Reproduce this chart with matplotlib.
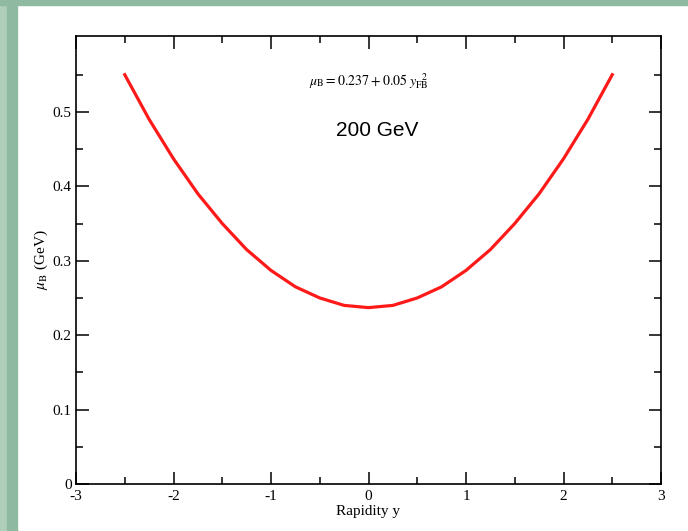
import numpy as np
import matplotlib
matplotlib.use("Agg")
import matplotlib.pyplot as plt
from matplotlib.patches import Rectangle

plt.rcParams['font.family'] = ['Liberation Serif', 'DejaVu Serif']
plt.rcParams['mathtext.fontset'] = 'stix'

# Rapidity points and mu_B values
rapidity = [-2.5, -2.25, -2.0, -1.75, -1.5, -1.25, -1.0, -0.75, -0.5, -0.25, 0.0,
            0.25, 0.5, 0.75, 1.0, 1.25, 1.5, 1.75, 2.0, 2.25, 2.5]
mu_b = [0.550, 0.490, 0.437, 0.390, 0.350, 0.315, 0.287, 0.265, 0.250, 0.240, 0.237,
        0.240, 0.250, 0.265, 0.287, 0.315, 0.350, 0.390, 0.437, 0.490, 0.550]

x_ticks = [-3, -2, -1, 0, 1, 2, 3]
y_ticks = [0, 0.1, 0.2, 0.3, 0.4, 0.5]

fig = plt.figure(figsize=(6.88, 5.31), dpi=100)
W, H = 688, 531

# slide background frame (green strips on left and top)
fig.patches.append(Rectangle((0, 0), 7 / W, 1, transform=fig.transFigure,
                             color='#afcfbb', zorder=0))
fig.patches.append(Rectangle((7 / W, 0), 10 / W, 1, transform=fig.transFigure,
                             color='#8fb9a1', zorder=0))
fig.patches.append(Rectangle((0, 1 - 5 / H), 1, 5 / H, transform=fig.transFigure,
                             color='#8fb9a1', zorder=0))

ax = fig.add_axes([76 / W, 1 - 484 / H, (661 - 76) / W, (484 - 36) / H])
ax.plot(rapidity, mu_b, color='#ff1a1a', lw=2.3, solid_joinstyle='round')

ax.set_xlim(-3, 3)
ax.set_ylim(0, 0.602)
ax.set_xticks(x_ticks)
ax.set_xticklabels([str(v) for v in x_ticks])
ax.set_yticks(y_ticks)
ax.set_yticklabels(['0', '0.1', '0.2', '0.3', '0.4', '0.5'])
ax.set_xticks(np.arange(-2.5, 3, 1.0), minor=True)
ax.set_yticks(np.arange(0.05, 0.6, 0.1), minor=True)

ax.tick_params(which='both', direction='in', top=True, right=True, width=1.1,
               labelsize=11, colors='black')
ax.tick_params(which='major', length=9)
ax.tick_params(axis='x', which='major', pad=4)
ax.tick_params(axis='y', which='major', pad=3)
ax.tick_params(which='minor', length=5)
for s in ax.spines.values():
    s.set_linewidth(1.2)

ax.set_xlabel('Rapidity y', fontsize=11, labelpad=2)
ax.set_ylabel(r'$\mu_{\rm B}$ (GeV)', fontsize=11, labelpad=2)

ax.text(0.5, 0.9, r'$\mu_{\rm B}=0.237+0.05\;y_{\rm FB}^{\ \ \,2}$',
        transform=ax.transAxes, ha='center', va='center', fontsize=10)
ax.text(0.515, 0.79, '200 GeV', transform=ax.transAxes, ha='center',
        va='center', fontsize=15, family=['Liberation Sans', 'DejaVu Sans'])

fig.savefig('out.png', dpi=100)
